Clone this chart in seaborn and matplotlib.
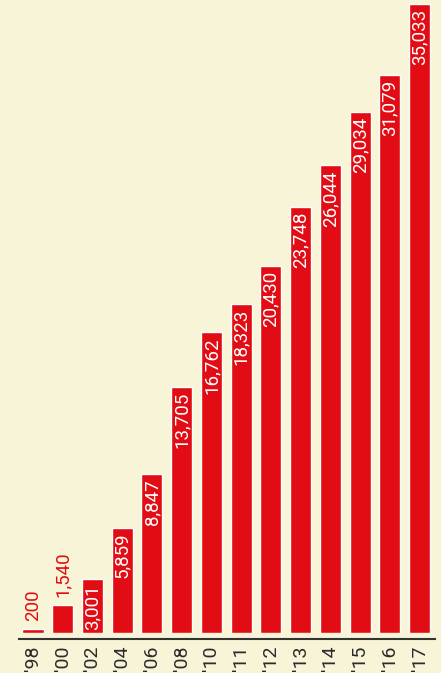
import matplotlib
matplotlib.use("Agg")
import matplotlib.pyplot as plt
import seaborn as sns

years = ["'98", "'00", "'02", "'04", "'06", "'08", "'10", "'11", "'12", "'13", "'14", "'15", "'16", "'17"]
values = [200, 1540, 3001, 5859, 8847, 13705, 16762, 18323, 20430, 23748, 26044, 29034, 31079, 35033]

bg = "#F7F4D7"
red = "#E20C14"

sns.set_style("white")
plt.rcParams["font.family"] = ["Liberation Sans Narrow", "Roboto", "DejaVu Sans"]

fig = plt.figure(figsize=(4.41, 6.73), dpi=100, facecolor=bg)
ax = fig.add_axes([19 / 441, 40 / 673, 416 / 441, 633 / 673])
ax.set_facecolor(bg)

sns.barplot(x=years, y=values, color=red, width=0.71, saturation=1, ax=ax)

ax.set_xlim(-0.47, 13.52)
ax.set_ylim(0, 35260)

for i, v in enumerate(values):
    label = f"{v:,}"
    if v < 2500:
        ax.annotate(label, (i, v), xytext=(0, 6), textcoords="offset points",
                    rotation=90, ha="center", va="bottom", color=red, fontsize=13.5)
    else:
        ax.annotate(label, (i, v), xytext=(0, -3.5), textcoords="offset points",
                    rotation=90, ha="center", va="top", color="white", fontsize=13.5)

for s in ["top", "right", "left"]:
    ax.spines[s].set_visible(False)
ax.spines["bottom"].set_position(("outward", 4))
ax.spines["bottom"].set_color("#333333")
ax.spines["bottom"].set_linewidth(1.5)
ax.set_yticks([])
ax.tick_params(axis="x", length=0, pad=5, labelsize=14, labelcolor="#2b2b2b", labelrotation=90)
ax.set_xlabel("")
ax.set_ylabel("")

fig.savefig("out.png", dpi=100, facecolor=bg)
